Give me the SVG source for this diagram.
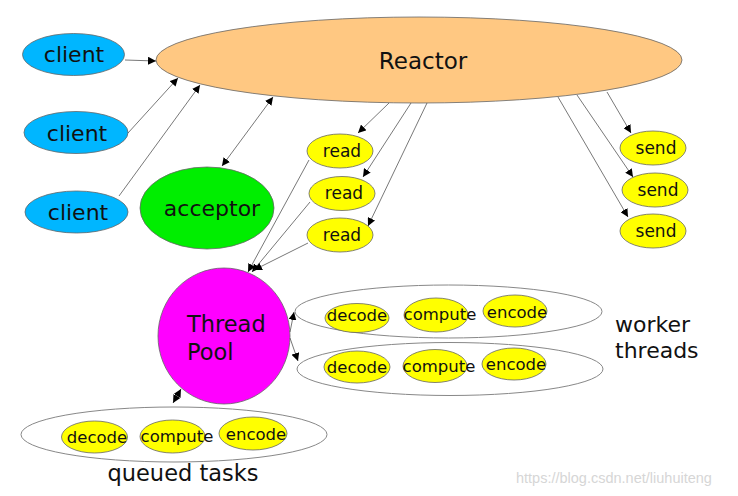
<svg xmlns="http://www.w3.org/2000/svg" width="738" height="496" viewBox="0 0 738 496">
<style>
text{font-family:"DejaVu Sans","Verdana",sans-serif;fill:#111}
.n{stroke:#666;stroke-width:0.8}
.big{font-size:22px}
.sm{font-size:17px}
.t{font-size:16.5px}
.c{text-anchor:middle}
.grp{fill:#fff;stroke:#888;stroke-width:1}
.y{fill:#ffff00}
.cl{fill:#00b6ff}
line,path.e{stroke:#555;stroke-width:0.8;fill:none}
.a{marker-end:url(#ah)}
.d{marker-end:url(#ah);marker-start:url(#ah)}
</style>
<defs>
<marker id="ah" viewBox="0 0 10 10" refX="10" refY="5" markerWidth="8" markerHeight="8" markerUnits="userSpaceOnUse" orient="auto-start-reverse">
<path d="M0,0 L10,5 L0,10 z" fill="#000"/>
</marker>
</defs>
<rect width="738" height="496" fill="#fff"/>

<g id="reactor">
<ellipse class="n" cx="419" cy="60" rx="263" ry="43" fill="#ffc882"/>
<text class="c" x="423" y="69" style="font-size:23px">Reactor</text>
</g>
<g id="client1">
<ellipse class="n cl" cx="73.5" cy="54.5" rx="51" ry="21"/>
<text class="c big" x="74" y="62">client</text>
</g>
<g id="client2">
<ellipse class="n cl" cx="76" cy="132.5" rx="52" ry="21"/>
<text class="c big" x="77" y="141">client</text>
</g>
<g id="client3">
<ellipse class="n cl" cx="76.5" cy="212" rx="51.5" ry="21"/>
<text class="c big" x="78" y="220">client</text>
</g>
<g id="acceptor">
<ellipse class="n" cx="207" cy="208" rx="67" ry="41" fill="#00ee00"/>
<text class="c big" x="212" y="216">acceptor</text>
</g>
<g id="read1">
<ellipse class="n y" cx="340" cy="151" rx="33" ry="17"/>
<text class="c sm" x="342" y="157">read</text>
</g>
<g id="read2">
<ellipse class="n y" cx="342" cy="193.5" rx="33" ry="17"/>
<text class="c sm" x="344" y="199">read</text>
</g>
<g id="read3">
<ellipse class="n y" cx="340" cy="235" rx="33" ry="17"/>
<text class="c sm" x="342" y="241">read</text>
</g>
<g id="send1">
<ellipse class="n y" cx="653" cy="148" rx="33" ry="17"/>
<text class="c sm" x="656" y="154">send</text>
</g>
<g id="send2">
<ellipse class="n y" cx="655" cy="190" rx="33" ry="17"/>
<text class="c sm" x="658" y="196">send</text>
</g>
<g id="send3">
<ellipse class="n y" cx="653" cy="231" rx="33" ry="17"/>
<text class="c sm" x="656" y="237">send</text>
</g>
<g id="threadpool">
<ellipse class="n" cx="224" cy="336" rx="66" ry="68" fill="#ff00ff"/>
<text class="big" x="187" y="332" style="font-size:22.5px">Thread</text>
<text class="big" x="187" y="360" style="font-size:22.5px">Pool</text>
</g>
<g id="worker1">
<ellipse class="grp" cx="448.5" cy="311.5" rx="153.5" ry="26.5"/>
<ellipse class="n y" cx="357" cy="318" rx="32" ry="14.5"/>
<ellipse class="n y" cx="436" cy="315" rx="32" ry="17"/>
<ellipse class="n y" cx="515" cy="311" rx="32" ry="16"/>
<text class="c t" x="357" y="321">decode</text>
<text class="c t" x="440" y="320">compute</text>
<text class="c t" x="517" y="318">encode</text>
</g>
<g id="worker2">
<ellipse class="grp" cx="450" cy="369" rx="153" ry="26.5"/>
<ellipse class="n y" cx="357" cy="367" rx="33" ry="16"/>
<ellipse class="n y" cx="435" cy="366" rx="32" ry="16.5"/>
<ellipse class="n y" cx="514" cy="364" rx="32" ry="16"/>
<text class="c t" x="357" y="373">decode</text>
<text class="c t" x="439" y="372">compute</text>
<text class="c t" x="516" y="370">encode</text>
</g>
<g id="queued">
<ellipse class="grp" cx="174" cy="434.5" rx="153" ry="27.5"/>
<ellipse class="n y" cx="94.5" cy="437" rx="33" ry="16"/>
<ellipse class="n y" cx="172.5" cy="436.5" rx="32.5" ry="16.5"/>
<ellipse class="n y" cx="253" cy="433.5" rx="34" ry="16.5"/>
<text class="c t" x="97" y="443">decode</text>
<text class="c t" x="177" y="442">compute</text>
<text class="c t" x="256" y="440">encode</text>
</g>
<g id="labels">
<text class="c" x="183" y="481" style="font-size:22.5px">queued tasks</text>
<text class="big" x="615" y="332">worker</text>
<text class="big" x="615" y="358">threads</text>
<text x="516" y="483" style="font-family:'Liberation Sans',Arial,sans-serif;font-size:14.5px;fill:#d6d6d6">https://blog.csdn.net/liuhuiteng</text>
</g>

<g id="connectors">
<line class="a" x1="125" y1="60" x2="156" y2="61"/>
<line class="a" x1="128" y1="133" x2="178" y2="78"/>
<line class="a" x1="119" y1="196" x2="200" y2="85"/>
<line class="d" x1="222" y1="166" x2="273" y2="97"/>
<line class="a" x1="389" y1="103" x2="358" y2="133"/>
<line class="a" x1="411" y1="103" x2="363" y2="177"/>
<line class="a" x1="427" y1="103" x2="368" y2="226"/>
<line class="a" x1="309" y1="160" x2="248" y2="272"/>
<line class="a" x1="310" y1="202" x2="252" y2="272"/>
<line class="a" x1="308" y1="243" x2="254" y2="270"/>
<line class="a" x1="607" y1="92" x2="631" y2="133"/>
<line class="a" x1="577" y1="95" x2="633" y2="177"/>
<line class="a" x1="558" y1="97" x2="628" y2="217"/>
<line class="a" x1="290" y1="332" x2="294" y2="312"/>
<line class="a" x1="290" y1="338" x2="298" y2="361"/>
<line class="d" x1="173" y1="403" x2="181" y2="389"/>
</g>
</svg>
